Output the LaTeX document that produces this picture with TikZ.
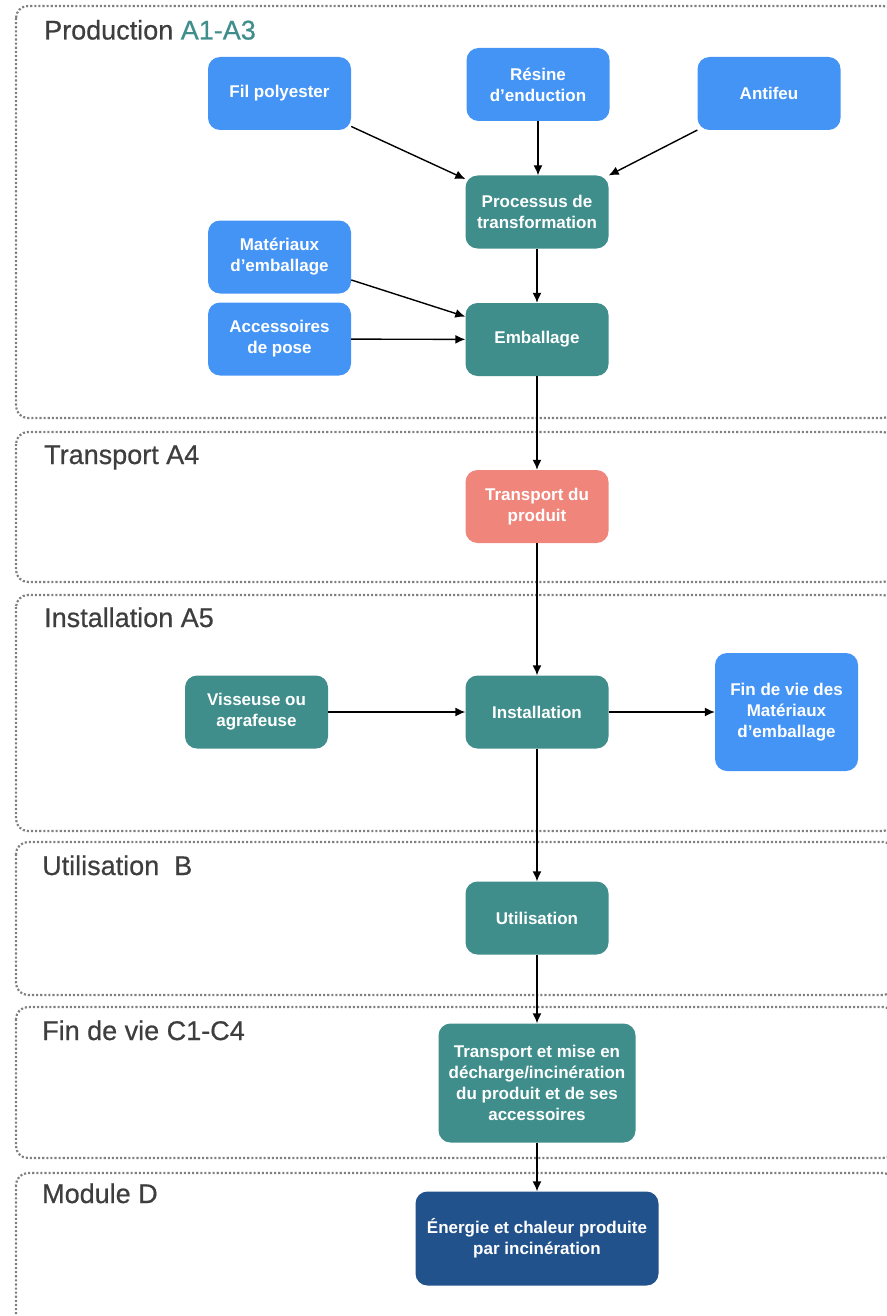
\documentclass[tikz,border=0pt]{standalone}
\usepackage{fontspec}
\setmainfont{Liberation Sans}
\newfontfamily\titlefont[BoldFont={Liberation Sans}, BoldFeatures={FakeBold=0.6}]{Liberation Sans}
\usetikzlibrary{arrows.meta}
\definecolor{cblue}{HTML}{4494F6}
\definecolor{cteal}{HTML}{3F8E8C}
\definecolor{csalmon}{HTML}{F0857B}
\definecolor{cnavy}{HTML}{22528C}
\definecolor{ctitle}{HTML}{3E3E3E}
\definecolor{cdot}{HTML}{808080}
\tikzset{
  box/.style={rounded corners=12pt, draw=none, text=white, align=center,
    font=\fontsize{17}{21}\selectfont\bfseries, minimum width=143pt, minimum height=73pt, inner sep=0pt},
  bluebox/.style={box, fill=cblue},
  tealbox/.style={box, fill=cteal},
  salmonbox/.style={box, fill=csalmon},
  navybox/.style={box, fill=cnavy},
  section/.style={draw=cdot, line width=2.2pt, dash pattern=on 2.1pt off 2pt, rounded corners=12pt},
  sectitle/.style={anchor=base west, inner sep=0pt, text=ctitle, font=\titlefont\bfseries\fontsize{27}{31}\selectfont},
  arr/.style={line width=1.4pt, -{Latex[length=10pt,width=9pt]}}
}
\begin{document}
\begin{tikzpicture}[x=1pt,y=-1pt]
\useasboundingbox (0,0) rectangle (886,1316);
% sections
\draw[section] (16,6) rectangle (895,418);
\draw[section] (16,432) rectangle (895,582);
\draw[section] (16,595) rectangle (895,831);
\draw[section] (16,842) rectangle (895,995);
\draw[section] (16,1007) rectangle (895,1158);
\draw[section] (16,1173) rectangle (895,1340);
% titles
\node[sectitle] (t1) at (44,39.5) {Production \textcolor{cteal}{A1-A3}};
\node[sectitle] (t2) at (44,464) {Transport A4};
\node[sectitle] (t3) at (44,627) {Installation A5};
\node[sectitle] (t4) at (42,875) {Utilisation\ \ B};
\node[sectitle] (t5) at (42,1040) {Fin de vie C1-C4};
\node[sectitle] (t6) at (42,1203) {Module D};
% nodes
\node[bluebox] (fil) at (279.5,93.5) {Fil polyester};
\node[bluebox] (res) at (538,84.5) {Résine\\d’enduction};
\node[bluebox] (anti) at (769,93.5) {Antifeu};
\node[tealbox] (proc) at (537,212) {Processus de\\transformation};
\node[bluebox] (mat) at (279.5,257) {Matériaux\\d’emballage};
\node[bluebox] (acc) at (279.5,339) {Accessoires\\de pose};
\node[tealbox] (emb) at (537,339.5) {Emballage};
\node[salmonbox] (tra) at (537,506.5) {Transport du\\produit};
\node[tealbox] (vis) at (256.5,712) {Visseuse ou\\agrafeuse};
\node[tealbox] (inst) at (537,712) {Installation};
\node[bluebox, minimum height=118pt] (fdv) at (786.5,712) {Fin de vie des\\Matériaux\\d’emballage};
\node[tealbox] (util) at (537,918) {Utilisation};
\node[tealbox, minimum width=197pt, minimum height=119pt] (tmd) at (537,1083) {Transport et mise en\\décharge/incinération\\du produit et de ses\\accessoires};
\node[navybox, minimum width=243pt, minimum height=94pt] (ene) at (537,1238.5) {Énergie et chaleur produite\\par incinération};
% connectors
\draw[arr] (fil) -- (proc);
\draw[arr] (res.south) -- (res.south |- proc.north);
\draw[arr] (anti) -- (proc);
\draw[arr] (proc) -- (emb);
\draw[arr] (mat) -- (emb);
\draw[arr] (acc) -- (emb);
\draw[arr] (emb) -- (tra);
\draw[arr] (tra) -- (inst);
\draw[arr] (vis) -- (inst);
\draw[arr] (inst) -- (fdv);
\draw[arr] (inst) -- (util);
\draw[arr] (util) -- (tmd);
\draw[arr] (tmd) -- (ene);
\end{tikzpicture}
\end{document}
